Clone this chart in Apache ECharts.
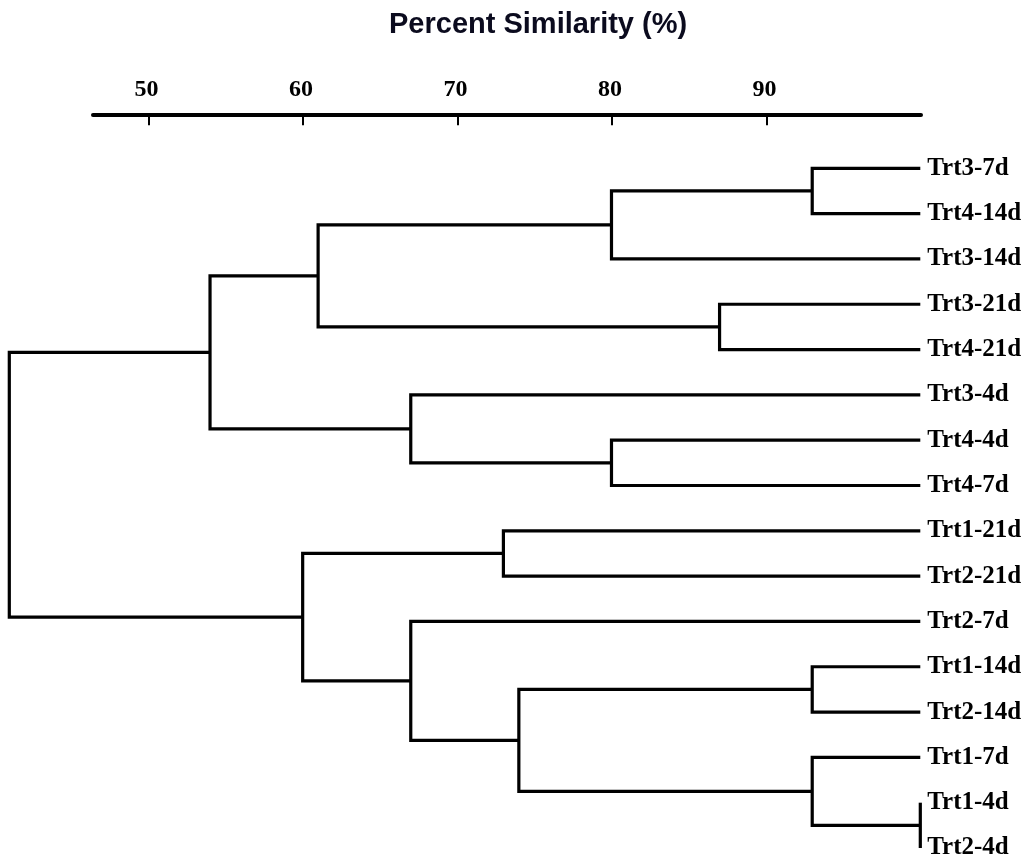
<!DOCTYPE html>
<html>
<head>
<meta charset="utf-8">
<script src="https://cdn.jsdelivr.net/npm/echarts@6/dist/echarts.min.js"></script>
<style>
  html, body { margin: 0; padding: 0; background: #fff; }
  #chart { width: 1026px; height: 861px; }
</style>
</head>
<body>
<div id="chart"></div>
<script>
// leaves, top to bottom
const leaves = [
  'Trt3-7d', 'Trt4-14d', 'Trt3-14d', 'Trt3-21d', 'Trt4-21d', 'Trt3-4d', 'Trt4-4d', 'Trt4-7d',
  'Trt1-21d', 'Trt2-21d', 'Trt2-7d', 'Trt1-14d', 'Trt2-14d', 'Trt1-7d', 'Trt1-4d', 'Trt2-4d'
]
// merges: ids 0..15 are leaves, each merge makes a new id (16, 17, ...)
const links = [
  [0, 1], [16, 2], [3, 4], [17, 18], [6, 7], [5, 20], [19, 21],
  [8, 9], [11, 12], [14, 15], [13, 25], [24, 26], [10, 27], [23, 28], [22, 29]
]
// similarity (%) at which each merge happens
const heights = [93, 80, 87, 61, 80, 67, 54, 73, 93, 100, 93, 74, 67, 60, 41]
const ticks = [50, 60, 70, 80, 90]

// node positions: x = similarity, y = leaf index (mean of children)
const nodes = leaves.map((n, i) => ({ x: 100, y: i }))
links.forEach((l, k) => {
  nodes.push({ x: heights[k], y: (nodes[l[0]].y + nodes[l[1]].y) / 2 })
})

const lineStyle = { color: '#000', width: 3.2, join: 'miter' }
const series = links.map((l, k) => {
  const a = nodes[l[0]]
  const b = nodes[l[1]]
  const h = heights[k]
  return {
    type: 'line',
    xAxisIndex: 0,
    yAxisIndex: 0,
    data: [[a.x, a.y], [h, a.y], [h, b.y], [b.x, b.y]],
    showSymbol: false,
    symbol: 'none',
    clip: false,
    silent: true,
    lineStyle: lineStyle
  }
})

series.push({
  type: 'scatter',
  xAxisIndex: 0,
  yAxisIndex: 0,
  symbolSize: 0,
  clip: false,
  itemStyle: { opacity: 1 },
  data: leaves.map((n, i) => ({ name: n, value: [100, i] })),
  label: {
    show: true,
    position: 'right',
    distance: 7,
    formatter: '{b}',
    color: '#000',
    opacity: 1,
    fontFamily: 'Liberation Serif',
    fontWeight: 'bold',
    fontSize: 25
  }
})

const myChart = echarts.init(document.getElementById('chart'))
myChart.setOption({
  animation: false,
  backgroundColor: '#fff',
  title: {
    text: 'Percent Similarity (%)',
    left: 384,
    top: 5,
    textStyle: {
      fontFamily: 'Liberation Sans',
      fontWeight: 'bold',
      fontSize: 29,
      color: '#0b0b1e'
    }
  },
  grid: [
    { left: 9.3, right: 105.7, top: 168.3, bottom: 13 },
    { left: 93, right: 105, top: 114.3, height: 20 }
  ],
  xAxis: [
    { type: 'value', gridIndex: 0, min: 41, max: 100, show: false },
    {
      type: 'value',
      gridIndex: 1,
      position: 'top',
      min: 46.4,
      max: 100,
      axisLine: { show: true, onZero: false, lineStyle: { color: '#000', width: 4 } },
      axisTick: {
        show: true,
        inside: true,
        length: 11,
        customValues: ticks,
        lineStyle: { color: '#000', width: 2 }
      },
      axisLabel: {
        customValues: ticks,
        margin: 13,
        padding: [0, 4, 0, 0],
        color: '#000',
        fontFamily: 'Liberation Serif',
        fontWeight: 'bold',
        fontSize: 24
      },
      splitLine: { show: false }
    }
  ],
  yAxis: [
    { type: 'value', gridIndex: 0, min: 0, max: 15, inverse: true, show: false },
    { type: 'value', gridIndex: 1, show: false }
  ],
  series: series
})
</script>
</body>
</html>
